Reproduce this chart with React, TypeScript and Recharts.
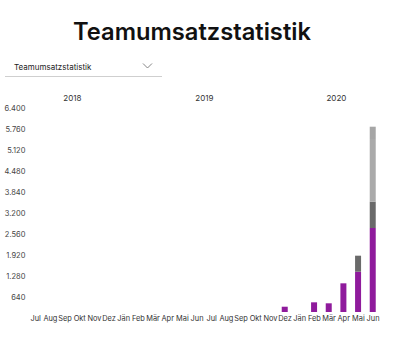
import React from "react";
import { BarChart, Bar, XAxis, YAxis } from "recharts";

const monthLabels = [
  "Jul", "Aug", "Sep", "Okt", "Nov", "Dez",
  "Jän", "Feb", "Mär", "Apr", "Mai", "Jun", "Jul", "Aug", "Sep", "Okt", "Nov", "Dez",
  "Jän", "Feb", "Mär", "Apr", "Mai", "Jun",
];
const monthYears = [
  2018, 2018, 2018, 2018, 2018, 2018,
  2019, 2019, 2019, 2019, 2019, 2019, 2019, 2019, 2019, 2019, 2019, 2019,
  2020, 2020, 2020, 2020, 2020, 2020,
];
const purpleValues = [
  null, null, null, null, null, null,
  null, null, null, null, null, null, null, null, null, null, null, 344,
  null, 478, 448, 1057, 1411, 2743,
];
const darkValues = [
  null, null, null, null, null, null,
  null, null, null, null, null, null, null, null, null, null, null, null,
  null, null, null, null, 488, 801,
];
const lightValues = [
  null, null, null, null, null, null,
  null, null, null, null, null, null, null, null, null, null, null, null,
  null, null, null, null, null, 1911,
];
const topValues = [
  null, null, null, null, null, null,
  null, null, null, null, null, null, null, null, null, null, null, null,
  null, null, null, null, null, 375,
];
const yTicks = [640, 1280, 1920, 2560, 3200, 3840, 4480, 5120, 5760, 6400];
const yDomain = [183, 6400];

const data = monthLabels.map((m, i) => ({
  key: `${m}-${monthYears[i]}-${i}`,
  month: m,
  pos: i + 0.5,
  purple: purpleValues[i],
  dark: darkValues[i],
  light: lightValues[i],
  top: topValues[i],
}));

const yearList = Array.from(new Set(monthYears));
const yearCenters = yearList.map((y) => {
  const first = monthYears.indexOf(y);
  const last = monthYears.lastIndexOf(y);
  return (first + last + 1) / 2;
});

const fmtNum = (v: number) =>
  v >= 1000 ? `${Math.floor(v / 1000)}.${String(v % 1000).padStart(3, "0")}` : String(v);

const FONT = "Inter, 'Noto Sans', sans-serif";

export default function App() {
  return (
    <div style={{ position: "absolute", left: 0, top: 0, width: 410, height: 337, background: "#fff", fontFamily: FONT }}>
      <div
        style={{
          position: "absolute",
          left: 0,
          top: 15,
          width: 384,
          textAlign: "center",
          fontSize: 23.7,
          fontWeight: 600,
          color: "#111",
          lineHeight: "34px",
        }}
      >
        Teamumsatzstatistik
      </div>
      <div
        style={{
          position: "absolute",
          left: 14,
          top: 61,
          fontSize: 8,
          color: "#222",
          lineHeight: "12px",
        }}
      >
        Teamumsatzstatistik
      </div>
      <svg style={{ position: "absolute", left: 142, top: 62 }} width={12} height={8}>
        <polyline points="1,1.5 5.5,6 10,1.5" fill="none" stroke="#777" strokeWidth={0.9} />
      </svg>
      <div style={{ position: "absolute", left: 5, top: 76, width: 157, height: 1, background: "#cfcfcf" }} />
      <div style={{ position: "absolute", left: 0, top: 0 }}>
        <BarChart
          width={410}
          height={337}
          data={data}
          margin={{ top: 78, right: 29.6, bottom: 5, left: 0 }}
          barSize={6}
        >
          <XAxis
            xAxisId="month"
            dataKey="key"
            tickFormatter={(v: string) => String(v).split("-")[0]}
            interval={0}
            axisLine={false}
            tickLine={false}
            tickSize={2}
            tickMargin={2}
            height={20}
            tick={{ fontSize: 7.4, fill: "#333", fontFamily: FONT }}
          />
          <XAxis
            xAxisId="year"
            type="number"
            dataKey="pos"
            orientation="top"
            domain={[0, monthLabels.length]}
            allowDataOverflow
            ticks={yearCenters}
            tickFormatter={(v: number) => String(yearList[yearCenters.indexOf(v)] ?? "")}
            axisLine={false}
            tickLine={false}
            tickSize={5}
            tickMargin={2}
            height={30}
            tick={{ fontSize: 8, fill: "#333", fontFamily: FONT }}
          />
          <YAxis
            type="number"
            domain={yDomain}
            allowDataOverflow
            ticks={yTicks}
            interval={0}
            tickFormatter={fmtNum}
            axisLine={false}
            tickLine={false}
            tickSize={1}
            tickMargin={2}
            width={28.4}
            tick={{ fontSize: 7.5, fill: "#444", fontFamily: FONT }}
          />
          <Bar xAxisId="month" dataKey="purple" stackId="a" fill="#8f1b9c" isAnimationActive={false} />
          <Bar xAxisId="month" dataKey="dark" stackId="a" fill="#6a6a6a" isAnimationActive={false} />
          <Bar xAxisId="month" dataKey="light" stackId="a" fill="#aaaaaa" isAnimationActive={false} />
          <Bar xAxisId="month" dataKey="top" stackId="a" fill="#a6a6a6" isAnimationActive={false} />
        </BarChart>
      </div>
    </div>
  );
}
